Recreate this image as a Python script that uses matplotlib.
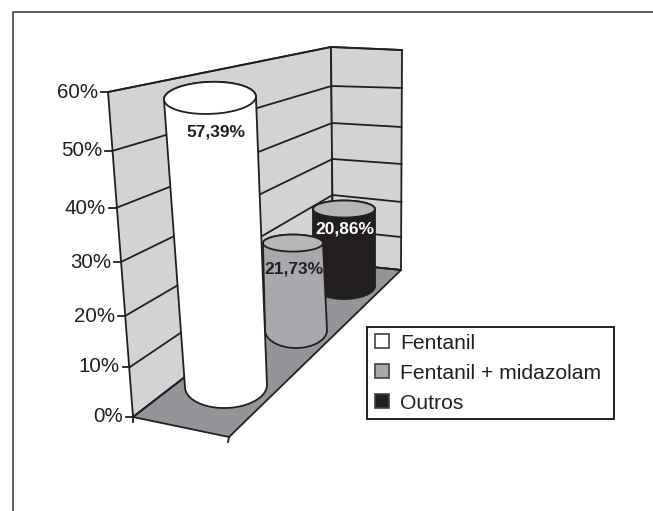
import numpy as np
import matplotlib
matplotlib.use("Agg")
import matplotlib.pyplot as plt
from matplotlib.patches import Polygon, Patch
from matplotlib.legend_handler import HandlerPatch

plt.rcParams['font.family'] = ['Liberation Sans', 'DejaVu Sans']

categories = ["Fentanil", "Fentanil + midazolam", "Outros"]
values = [57.39, 21.73, 20.86]
value_labels = ["57,39%", "21,73%", "20,86%"]
tick_values = [0, 10, 20, 30, 40, 50, 60]
tick_labels = ["0%", "10%", "20%", "30%", "40%", "50%", "60%"]

# layout: projected wall corners for each tick level (pixels)
left_x = [133, 130, 125, 121, 116, 112, 108]
left_y = [417, 367, 316, 262, 208, 151, 92]
back_x = [333, 333, 332.5, 332.5, 332, 331.5, 331]
back_y = [263, 230, 195, 159, 123, 86, 47]
right_x = [401, 401, 401.5, 401.5, 401.5, 402, 402]
right_y = [270, 237, 202, 164, 127, 88, 50]
front = (229, 437)

# layout: cylinders (base centre, px per unit, lean, radii)
base_x = [226, 296, 344]
base_y = [386, 330, 286]
scale = [5.02, 4.0, 3.69]
lean = [-0.28, -0.14, 0.0]
top_r = [(46, 16), (30, 8.5), (31, 8.5)]
base_r = [(41, 22), (31, 18), (31, 13)]
tilt = [-2.0, 0.0, 0.0]
side_colors = ["#ffffff", "#a7a9ac", "#231f20"]
top_colors = ["#ffffff", "#b4b6b8", "#b4b6b8"]
label_colors = ["#231f20", "#231f20", "#ffffff"]
label_pos = [(216, 132), (294, 269), (345, 229)]

ink = "#231f20"
fig = plt.figure(figsize=(6.53, 5.11), dpi=100)
ax = fig.add_axes([0, 0, 1, 1])
ax.set_xlim(0, 653)
ax.set_ylim(511, 0)
ax.axis("off")

# outer frame
ax.plot([12.5, 12.5, 653], [511, 12.5, 12.5], color="#333333", lw=1.1, zorder=1)

# walls and floor
lw = 1.3
ax.add_patch(Polygon([(left_x[-1], left_y[-1]), (back_x[-1], back_y[-1]), (back_x[0], back_y[0]), (left_x[0], left_y[0])],
                     fc="#d1d3d4", ec=ink, lw=lw, zorder=2))
ax.add_patch(Polygon([(back_x[-1], back_y[-1]), (right_x[-1], right_y[-1]), (right_x[0], right_y[0]), (back_x[0], back_y[0])],
                     fc="#d1d3d4", ec=ink, lw=lw, zorder=2))
ax.add_patch(Polygon([(left_x[0], left_y[0]), front, (right_x[0], right_y[0]), (back_x[0], back_y[0])],
                     fc="#939598", ec=ink, lw=lw, zorder=2))

# grid lines, ticks, tick labels
for i, lab in enumerate(tick_labels):
    ax.plot([left_x[i], back_x[i], right_x[i]], [left_y[i], back_y[i], right_y[i]], color=ink, lw=lw, zorder=3)
    ax.plot([left_x[i] - 7, left_x[i]], [left_y[i], left_y[i]], color=ink, lw=lw, zorder=3)
    ax.text(left_x[i] - 10, left_y[i], lab, ha="right", va="center", fontsize=14.8, color=ink, zorder=3)
ax.plot([left_x[0], left_x[0]], [left_y[0], left_y[0] + 5], color=ink, lw=lw, zorder=3)
ax.plot([front[0], front[0] - 1], [front[1], front[1] + 5], color=ink, lw=lw, zorder=3)


def arc(cx, cy, a, b, t0, t1, rot):
    t = np.radians(np.linspace(t0, t1, 80))
    r = np.radians(rot)
    x, y = a * np.cos(t), b * np.sin(t)
    return np.column_stack([cx + x * np.cos(r) - y * np.sin(r), cy + x * np.sin(r) + y * np.cos(r)])


# cylinders, back to front
for i in [2, 1, 0]:
    z = 5 + (2 - i)
    bx, by = base_x[i], base_y[i]
    tx = bx + lean[i] * values[i]
    ty = by - scale[i] * values[i]
    lower = arc(bx, by, *base_r[i], 0, 180, tilt[i])
    upper = arc(tx, ty, *top_r[i], 180, 360, tilt[i])
    ax.add_patch(Polygon(np.vstack([lower, upper]), closed=True, fc=side_colors[i], ec=ink, lw=lw, zorder=z))
    ax.add_patch(Polygon(arc(tx, ty, *top_r[i], 0, 360, tilt[i]), closed=True, fc=top_colors[i], ec=ink, lw=lw, zorder=z))
    ax.text(*label_pos[i], value_labels[i], ha="center", va="center", fontsize=12.5, fontweight="bold",
            color=label_colors[i], zorder=10)

# legend
handles = [Patch(fc=side_colors[i], ec="#414042", lw=1.2, label=categories[i]) for i in range(3)]
leg = ax.legend(handles=handles, loc="lower left",
                bbox_to_anchor=(367 / 653, 1 - 419 / 511, 247 / 653, 93 / 511),
                bbox_transform=ax.transAxes, mode="expand", fontsize=15.2, fancybox=False, framealpha=1,
                edgecolor=ink, handlelength=0.72, handleheight=0.62, handletextpad=0.55,
                labelspacing=0.52, borderpad=0.3, borderaxespad=0, labelcolor=ink,
                handler_map={Patch: HandlerPatch(xpad=0.1)})
leg.get_frame().set_linewidth(1.4)
leg.set_zorder(20)

fig.savefig("out.png", dpi=100)
